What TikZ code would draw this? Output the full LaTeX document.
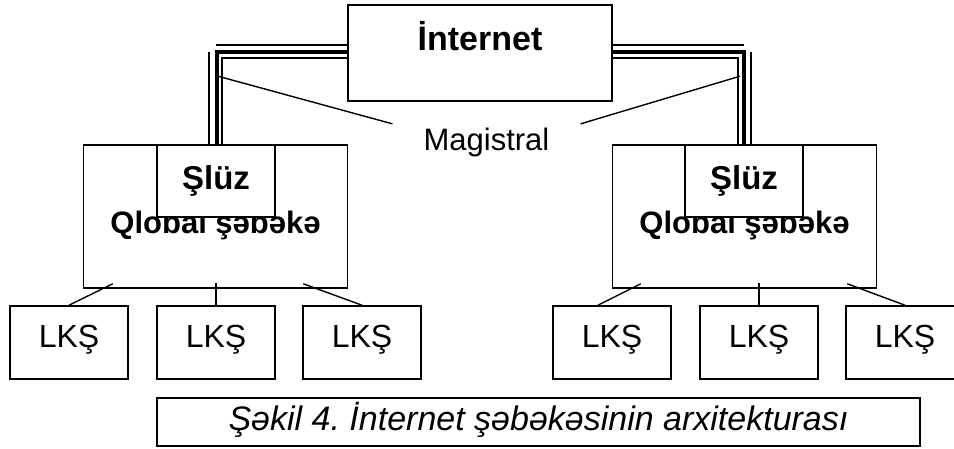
\documentclass[tikz,border=0pt]{standalone}
\usepackage{fontspec}
\setmainfont{Liberation Sans}
\usepackage{tikz}
\frenchspacing

\begin{document}
\begin{tikzpicture}[x=1pt, y=-1pt,
    box/.style={draw, line width=1.6pt, inner sep=0pt, fill=white},
    netbox/.style={box, minimum width=264, minimum height=96,
        font=\fontsize{34}{40}\selectfont\bfseries, text height=24pt, text depth=30pt},
    globbox/.style={box, minimum width=264, minimum height=143,
        font=\fontsize{31}{37}\selectfont\bfseries, text height=34pt, text depth=1pt},
    gatebox/.style={box, minimum width=118, minimum height=72,
        font=\fontsize{33}{39}\selectfont\bfseries},
    lanbox/.style={box, minimum width=118, minimum height=73,
        font=\fontsize{32}{38}\selectfont, text height=23pt, text depth=14pt},
    capbox/.style={box, minimum width=763, minimum height=48,
        font=\fontsize{34}{40}\selectfont\itshape, text height=25pt, text depth=8pt},
    wire/.style={line width=1.8pt},
    trunk/.style={line width=4pt},
    link/.style={line width=1.4pt}]
    \useasboundingbox (0,0) rectangle (954,448);
    \clip (0,0) rectangle (954,448);

    % Internet and the two global networks
    \node[netbox] (inet) at (480,53) {İnternet};
    \node[globbox] (gl) at (215.5,216.5) {Qlobal şəbəkə};
    \node[globbox] (gr) at (744.5,216.5) {Qlobal şəbəkə};
    \node[gatebox] (sl) at (216,181) {Şlüz};
    \node[gatebox] (sr) at (744,181) {Şlüz};

    % local networks
    \foreach \x/\n in {69/1, 216/2, 362/3, 612/4, 759/5, 905/6}
        \node[lanbox] (l\n) at (\x,342.5) {LKŞ};

    \node[capbox] (cap) at (538.5,422) {Şəkil 4. İnternet şəbəkəsinin arxitekturası};

    % backbone, left
    \draw[wire] ([yshift=8pt]inet.west) -- ([yshift=8pt]inet.west -| sl.north)
        ([shift={(-7pt,1pt)}]sl.north |- inet.west) -- ([xshift=-7pt]sl.north);
    \draw[trunk] ([yshift=1.5pt]inet.west) -| ([xshift=0.5pt]sl.north);
    \draw[wire] ([yshift=-5pt]inet.west) -| ([xshift=6pt]sl.north);

    % backbone, right
    \draw[wire] ([yshift=8pt]inet.east) -- ([yshift=8pt]inet.east -| sr.north)
        ([shift={(7pt,1pt)}]sr.north |- inet.east) -- ([xshift=7pt]sr.north);
    \draw[trunk] ([yshift=1.5pt]inet.east) -| ([xshift=-0.5pt]sr.north);
    \draw[wire] ([yshift=-5pt]inet.east) -| ([xshift=-6pt]sr.north);

    % label
    \node[font=\fontsize{31}{37}\selectfont, inner xsep=31pt, inner ysep=3.5pt, anchor=base]
        (mag) at (486.5,150) {Magistral};
    \draw[link] (mag.north west) -- ([shift={(2pt,68pt)}]sl.north);
    \draw[link] (mag.north east) -- ([shift={(-4pt,68pt)}]sr.north);

    % links down to the LKŞ boxes
    \draw[link] ([shift={(30pt,5pt)}]gl.south west) -- (l1.north);
    \draw[link] ([yshift=6pt]l2.north |- gl.south) -- (l2.north);
    \draw[link] ([shift={(-45pt,5pt)}]gl.south east) -- (l3.north);
    \draw[link] ([shift={(29pt,5pt)}]gr.south west) -- ([xshift=-14pt]l4.north);
    \draw[link] ([yshift=6pt]l5.north |- gr.south) -- (l5.north);
    \draw[link] ([shift={(-30pt,5pt)}]gr.south east) -- (l6.north);
\end{tikzpicture}
\end{document}
